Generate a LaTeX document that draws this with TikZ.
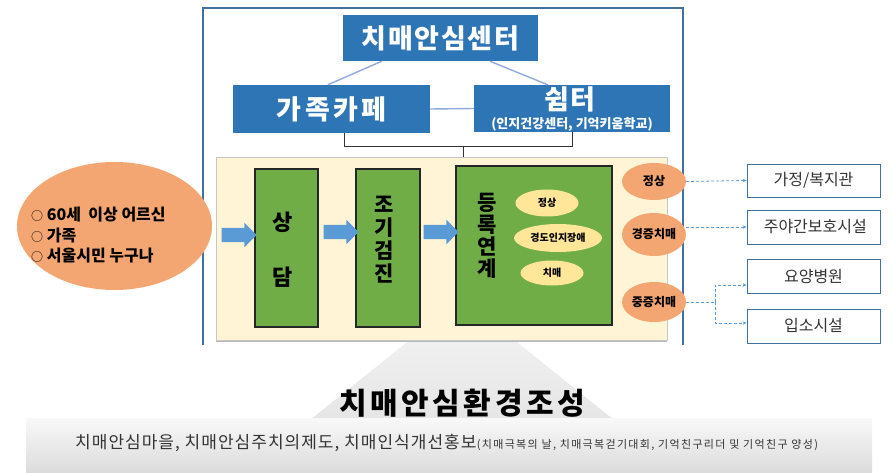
\documentclass[tikz,border=0pt]{standalone}
\usepackage{fontspec}
\setmainfont{Noto Sans CJK KR}
\newfontfamily\krA{Noto Sans CJK KR}[LetterSpace=6]
\newfontfamily\krB{Noto Sans CJK KR}[LetterSpace=12]
\usetikzlibrary{shapes.geometric,shapes.arrows,calc,arrows.meta}
\newcommand{\fsz}[1]{\fontsize{#1}{#1}\selectfont}
\newcommand{\smc}{{\mdseries\fsz{12}○}}
\definecolor{cblue}{HTML}{2E75B6}
\definecolor{clink}{HTML}{8FAADC}
\definecolor{cframe}{HTML}{41719C}
\definecolor{cpanel}{HTML}{FFF5D6}
\definecolor{cgreen}{HTML}{70AD47}
\definecolor{carrow}{HTML}{5B9BD5}
\definecolor{cyell}{HTML}{FFE699}
\definecolor{corange}{HTML}{F4A672}
\definecolor{ctext}{HTML}{333333}
\begin{document}
\begin{tikzpicture}[x=1pt,y=-1pt,
  bluebox/.style={fill=cblue, draw=none, text=white, inner sep=0pt, font=\krA\bfseries\fsz{27}},
  linkline/.style={draw=clink, line width=1.4pt},
  bracket/.style={draw=black!80, line width=0.8pt},
  panelbox/.style={fill=cpanel, draw=gray!45, line width=0.6pt, inner sep=0pt},
  greenbox/.style={fill=cgreen, draw=black!85, line width=1.6pt, inner sep=0pt},
  vtext/.style={align=center, inner sep=0pt, text=black},
  smallell/.style={ellipse, fill=cyell, draw=none, inner sep=0pt, font=\bfseries\fsz{10}},
  orangeell/.style={ellipse, fill=corange, draw=none, inner sep=0pt},
  barrow/.style={single arrow, fill=carrow, draw=none, inner sep=7pt, single arrow head extend=5pt, minimum height=35pt, single arrow tip angle=90},
  destbox/.style={draw=cframe, line width=0.8pt, fill=white, inner sep=0pt, minimum width=133pt, font=\fsz{16}, text=ctext},
  dashline/.style={draw=carrow, line width=0.8pt, dash pattern=on 3pt off 2pt},
  dasharrow/.style={dashline, -{Stealth[length=4pt,width=3.5pt]}}
]
\useasboundingbox (0,0) rectangle (894,473);

% background upward arrow and bottom band
\shade[top color=gray!8, bottom color=gray!20] (462,298) -- (310,420) -- (614,420) -- cycle;
\shade[top color=gray!5, bottom color=gray!28] (26,418) rectangle (872,473);

% outer frame
\draw[cframe, line width=1.8pt] (203,345) -- (203,8) -- (683,8) -- (683,345);

% top boxes
\node[bluebox, minimum width=195pt, minimum height=46pt] (center) at (440.5,38) {치매안심센터};
\node[bluebox, minimum width=197pt, minimum height=48pt, font=\krB\bfseries\fsz{27}] (cafe) at (331.5,109) {가족카페};
\node[bluebox, minimum width=196pt, minimum height=47pt] (shelter) at (572,108.5) {};
\node[inner sep=0pt, text=white, font=\krA\bfseries\fsz{27}] (shelterT) at (570,99) {쉼터};
\node[inner sep=0pt, text=white, font=\bfseries\fsz{13}] (shelterS) at (572,124) {(인지건강센터, 기억키움학교)};

\draw[linkline] ($(center.south west)+(39,0)$) -- ($(cafe.north west)+(95,0)$);
\draw[linkline] ($(center.south west)+(147,0)$) -- ($(shelter.north west)+(74,0)$);
\draw[linkline] (cafe.east) -- (shelter.west);

% panel
\node[panelbox, minimum width=451pt, minimum height=183pt] (panel) at (441.5,248.5) {};
\draw[gray!55, line width=1.5pt] ($(panel.south west)+(0,1)$) -- ($(panel.south east)+(0,1)$);

% bracket
\draw[bracket] ($(cafe.south west)+(112,0)$) -- ++(0,13) -| ($(shelter.south west)+(99,0)$);
\coordinate (bm) at (463,146);
\draw[bracket] (bm) -- (bm |- panel.north);

% green boxes
\node[greenbox, minimum width=63pt, minimum height=158pt] (sd) at (286.5,248) {};
\node[greenbox, minimum width=64pt, minimum height=158pt] (jg) at (388,248) {};
\node[greenbox, minimum width=156pt, minimum height=159pt] (dr) at (534,245.5) {};
\node[vtext, font=\bfseries\fontsize{22}{55}\selectfont] (sdT) at (283,249.5) {상\\담};
\node[vtext, font=\bfseries\fontsize{21}{23}\selectfont] (jgT) at (384,240) {조\\기\\검\\진};
\node[vtext, font=\bfseries\fontsize{21}{22}\selectfont] (drT) at (487,236) {등\\록\\연\\계};

\node[smallell, minimum width=63pt, minimum height=27pt] (n1) at (547,203) {정상};
\node[smallell, minimum width=88pt, minimum height=28pt] (n2) at (558,238) {경도인지장애};
\node[smallell, minimum width=63pt, minimum height=25pt] (n3) at (552,273) {치매};

% left ellipse
\node[orangeell, minimum width=195pt, minimum height=128pt] (who) at (114.5,226) {};
\node[anchor=west, align=left, inner sep=0pt, font=\bfseries\fontsize{16}{20.5}\selectfont] (whoT) at (31,235.5) {\smc\ 60세\ \ 이상 어르신\\\smc\ 가족\\\smc\ 서울시민 누구나};

% block arrows
\node[barrow] (a1) at (235.5,235) {};
\node[barrow] (a2) at (337.5,232) {};
\node[barrow] (a3) at (437.5,232) {};

% right ellipses
\node[orangeell, minimum width=64pt, minimum height=37pt, font=\bfseries\fsz{12}] (e1) at (654,181.5) {정상};
\node[orangeell, minimum width=64pt, minimum height=43pt, font=\bfseries\fsz{12}] (e2) at (654,234.5) {경증치매};
\node[orangeell, minimum width=64pt, minimum height=40pt, font=\bfseries\fsz{12}] (e3) at (654,302) {중증치매};

% destination boxes
\node[destbox, minimum height=33pt] (b1) at (813.5,180.5) {가정/복지관};
\node[destbox, minimum height=34pt] (b2) at (813.5,227) {\ 주야간보호시설};
\node[destbox, minimum height=34pt] (b3) at (813.5,276) {요양병원};
\node[destbox, minimum height=34pt] (b4) at (813.5,326) {입소시설};

\draw[dasharrow] (e1.east) -- (b1.west);
\draw[dasharrow] (e2.east |- b2.west) -- (b2.west);
\coordinate (jn) at (715,302);
\draw[dashline] (e3.east) -- (jn);
\draw[dasharrow] (jn) |- ([yshift=-9pt]b3.west);
\draw[dasharrow] (jn) |- ([yshift=3pt]b4.west);

% bottom texts
\node[font=\krB\bfseries\fsz{30}, inner sep=0pt] (env) at (462,403) {치매안심환경조성};
\node[anchor=west, font=\krA\fsz{17}, inner sep=0pt, text=ctext] (envT) at (75,443) {치매안심마을, 치매안심주치의제도, 치매인식개선홍보};
\node[anchor=base west, font=\krB\fsz{11}, inner sep=0pt, text=ctext] (envS) at (envT.base east) {(치매극복의 날, 치매극복걷기대회, 기억친구리더 및 기억친구 양성)};
\end{tikzpicture}
\end{document}
